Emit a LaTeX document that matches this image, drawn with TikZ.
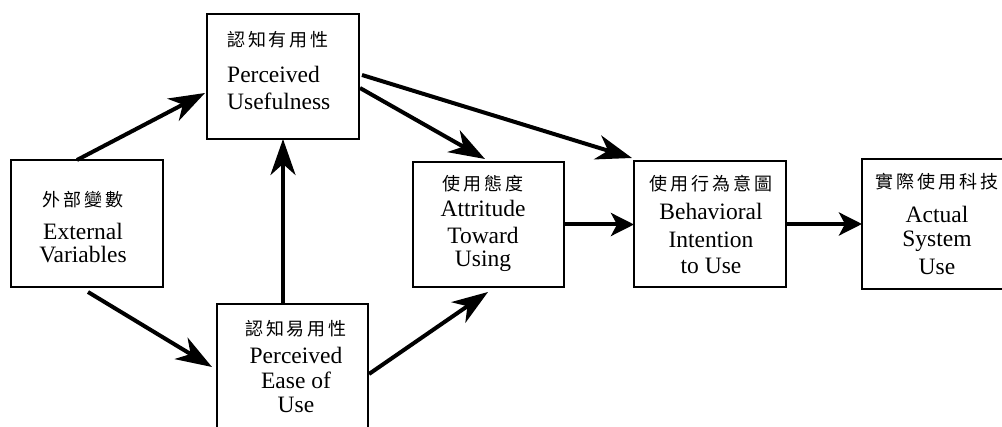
\documentclass[tikz,border=0pt]{standalone}
\usepackage{fontspec}
\setmainfont{Liberation Serif}
\newfontfamily\cjk[LetterSpace=16]{Noto Sans CJK TC}
\usetikzlibrary{arrows.meta,calc}
\tikzset{
  box/.style={draw, line width=2.6pt, minimum width=152pt, minimum height=125pt, inner sep=0pt, outer sep=0pt, anchor=north west},
  txt/.style={align=center, inner sep=0pt, anchor=north, font=\fontsize{23.5}{22}\selectfont},
  arr/.style={line width=4pt, -{Stealth[length=36pt,width=25pt,inset=11pt]}},
  harr/.style={line width=4pt, -{Stealth[length=23pt,width=23pt,inset=6pt]}},
}
\newcommand{\zh}[1]{{\cjk\fontsize{18}{18}\selectfont #1}}
\begin{document}
\begin{tikzpicture}[x=1pt,y=-1pt]
\path[fill=white] (0,0) rectangle (1002,427);
\useasboundingbox (0,0) rectangle (1002,427);
% boxes
\node[box] (pu) at (207,14) {};
\node[box, minimum height=127pt] (ev) at (11,160) {};
\node[box, minimum width=151pt, minimum height=135pt] (peou) at (217,304) {};
\node[box, minimum width=151pt] (atu) at (413,162) {};
\node[box, minimum height=126pt] (bi) at (634,161) {};
\node[box, minimum height=130pt] (asu) at (862,159) {};
% texts
\node[txt, align=left, anchor=north west] (put) at ($(pu.north west)+(20,17)$) {\zh{認知有用性}\\[14pt]Perceived\\[5pt]Usefulness};
\node[txt] (evt) at ($(ev.north west)+(72,31)$) {\zh{外部變數}\\[11.5pt]External\\[0.5pt]Variables};
\node[txt] (peout) at ($(peou.north west)+(79,16)$) {\zh{認知易用性}\\[6pt]Perceived\\[3pt]Ease of\\[2pt]Use};
\node[txt] (atut) at ($(atu.north west)+(70,13)$) {\zh{使用態度}\\[4pt]Attritude\\[5.5pt]Toward\\[0.5pt]Using};
\node[txt] (bit) at ($(bi.north west)+(77,14)$) {\zh{使用行為意圖}\\[7.5pt]Behavioral\\[5.3pt]Intention\\[4pt]to Use};
\node[txt] (asut) at ($(asu.north west)+(75,14)$) {\zh{實際使用科技}\\[12.5pt]Actual\\[2pt]System\\[5.3pt]Use};
% connectors
\draw[arr] ($(ev.north west)+(66,0)$) -- ($(pu.north west)+(-2,79)$);
\draw[arr] ($(ev.south west)+(77,5)$) -- ($(peou.north west)+(-5,63)$);
\draw[arr] ($(peou.north west)+(66,0)$) coordinate (p1) -- (p1 |- pu.south);
\draw[arr] ($(pu.north east)+(1,74)$) -- ($(atu.north west)+(72,-3)$);
\draw[arr] ($(pu.north east)+(3,61)$) -- ($(bi.north west)+(-2,-3)$);
\draw[arr] ($(peou.north east)+(1,70)$) -- ($(atu.south west)+(75,5)$);
\draw[harr] (atu.east) -- (atu.east -| bi.west);
\draw[harr] (bi.east) -- (bi.east -| asu.west);
\end{tikzpicture}
\end{document}
